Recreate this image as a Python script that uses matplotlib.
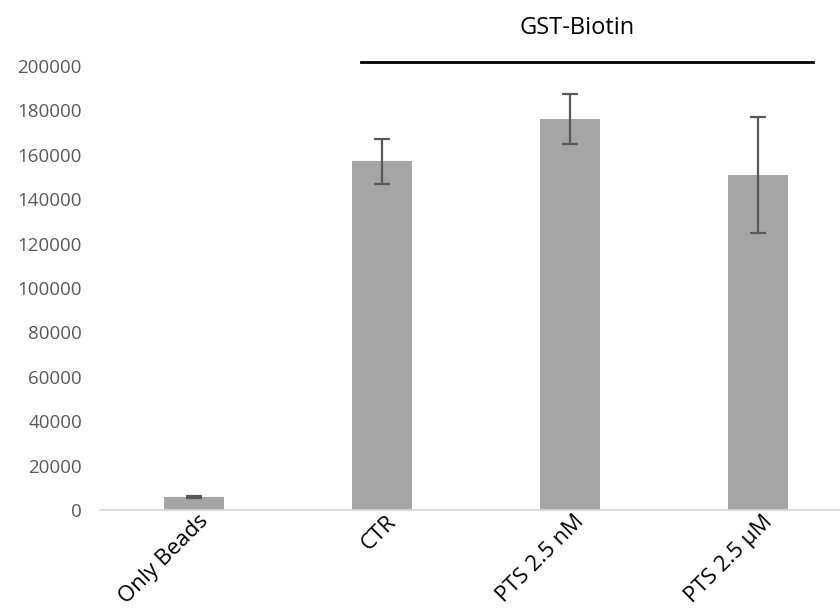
import matplotlib
matplotlib.use("Agg")
from matplotlib import pyplot as plt
from matplotlib.transforms import ScaledTranslation

# values
categories = ["Only Beads", "CTR", "PTS 2.5 nM", "PTS 2.5 \u00b5M"]
means = [5800, 157000, 176000, 151000]
errors = [600, 10000, 11300, 26000]
y_ticks = list(range(0, 200001, 20000))
group_label = "GST-Biotin"

plt.rcParams['font.family'] = ['Open Sans', 'DejaVu Sans']

fig = plt.figure(figsize=(8.4, 6.1), dpi=100)
ax = fig.add_axes([100 / 840, 100 / 610, 740 / 840, 444 / 610])

x = list(range(len(categories)))
ax.bar(x, means, width=0.32, color='#a5a5a5', zorder=2)
ax.errorbar(x, means, yerr=errors, fmt='none', ecolor='#595959',
            elinewidth=1.6, capsize=6, capthick=1.6, zorder=3)

ax.set_xlim(-0.5, 3.436)
ax.set_ylim(0, 200000)
ax.set_yticks(y_ticks)
ax.set_yticklabels([str(v) for v in y_ticks], fontsize=13.5, color='#595959')
ax.set_xticks(x)
ax.set_xticklabels(categories, fontsize=16, color='black', rotation=45,
                   ha='right', va='center', rotation_mode='anchor')
ax.tick_params(axis='both', length=0)
ax.tick_params(axis='x', pad=6)
ax.tick_params(axis='y', pad=13)

# nudge rotated labels to the right, like the original
shift = ScaledTranslation(11 / 100, 0, fig.dpi_scale_trans)
for lbl in ax.get_xticklabels():
    lbl.set_transform(lbl.get_transform() + shift)

for side in ['top', 'right', 'left']:
    ax.spines[side].set_visible(False)
ax.spines['bottom'].set_color('#d9d9d9')
ax.spines['bottom'].set_linewidth(1.2)

# bracket over the GST-Biotin group
ax.plot([0.89, 3.29], [201800, 201800], color='black', lw=2, clip_on=False)
ax.text(2.04, 217000, group_label, ha='center', va='center', fontsize=17,
        color='black')

fig.savefig("out.png", dpi=100)
